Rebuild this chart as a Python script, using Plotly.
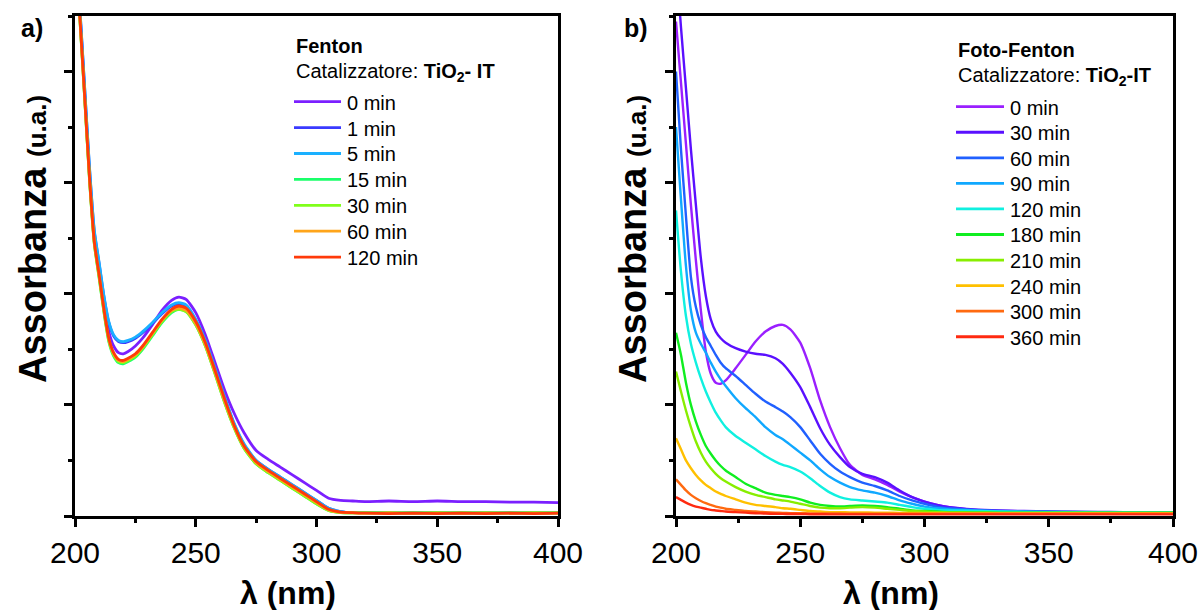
import plotly.graph_objects as go

# ---------------- Fenton (panel a) ----------------
wl_a = [200, 202, 204, 206, 208, 210, 212, 214, 216, 218, 220, 222, 225, 228, 232,
        236, 240, 243, 246, 250, 254, 258, 262, 266, 270, 275, 280, 285, 290, 295,
        300, 305, 310, 315, 320, 330, 340, 350, 360, 370, 380, 390, 400]

labels_a = ["0 min", "1 min", "5 min", "15 min", "30 min", "60 min", "120 min"]
colors_a = ["#7b1fff", "#3a3aff", "#1ab0ff", "#1aff6a", "#80ff1a", "#ffa51a", "#ff3a0a"]

abs_a_0 = [5.20, 4.55, 3.80, 3.07, 2.50, 2.21, 1.92, 1.66, 1.53, 1.47, 1.46, 1.48, 1.53, 1.60, 1.72,
           1.85, 1.94, 1.97, 1.95, 1.83, 1.63, 1.38, 1.13, 0.92, 0.75, 0.59, 0.51, 0.44, 0.37, 0.30,
           0.23, 0.16, 0.14, 0.135, 0.13, 0.135, 0.13, 0.135, 0.13, 0.13, 0.125, 0.125, 0.12]
abs_a_1 = [5.24, 4.57, 3.85, 3.13, 2.56, 2.27, 1.97, 1.74, 1.62, 1.57, 1.56, 1.57, 1.60, 1.65, 1.73,
           1.82, 1.89, 1.91, 1.89, 1.76, 1.57, 1.32, 1.06, 0.82, 0.64, 0.50, 0.42, 0.35, 0.28, 0.21,
           0.14, 0.07, 0.04, 0.03, 0.03, 0.03, 0.028, 0.03, 0.028, 0.03, 0.028, 0.03, 0.028]
abs_a_5 = [5.25, 4.58, 3.86, 3.14, 2.57, 2.28, 1.98, 1.75, 1.63, 1.58, 1.57, 1.58, 1.61, 1.66, 1.74,
           1.83, 1.90, 1.92, 1.90, 1.77, 1.58, 1.33, 1.07, 0.83, 0.65, 0.50, 0.42, 0.35, 0.28, 0.21,
           0.14, 0.07, 0.04, 0.03, 0.03, 0.03, 0.028, 0.03, 0.028, 0.03, 0.028, 0.03, 0.028]
abs_a_15 = [5.18, 4.48, 3.76, 3.03, 2.45, 2.14, 1.83, 1.57, 1.44, 1.38, 1.37, 1.39, 1.43, 1.50, 1.62,
            1.74, 1.83, 1.86, 1.84, 1.72, 1.53, 1.28, 1.02, 0.79, 0.61, 0.47, 0.39, 0.32, 0.25, 0.18,
            0.11, 0.05, 0.03, 0.028, 0.03, 0.026, 0.03, 0.027, 0.03, 0.026, 0.03, 0.027, 0.03]
abs_a_30 = [5.18, 4.48, 3.76, 3.03, 2.45, 2.15, 1.84, 1.58, 1.45, 1.39, 1.38, 1.40, 1.44, 1.51, 1.63,
            1.75, 1.84, 1.86, 1.84, 1.72, 1.53, 1.28, 1.02, 0.79, 0.61, 0.47, 0.39, 0.32, 0.25, 0.18,
            0.11, 0.05, 0.03, 0.028, 0.027, 0.03, 0.026, 0.03, 0.027, 0.03, 0.026, 0.03, 0.027]
abs_a_60 = [5.19, 4.49, 3.77, 3.04, 2.46, 2.16, 1.85, 1.59, 1.46, 1.40, 1.39, 1.41, 1.45, 1.52, 1.64,
            1.76, 1.85, 1.87, 1.85, 1.73, 1.54, 1.29, 1.03, 0.80, 0.62, 0.48, 0.40, 0.33, 0.26, 0.19,
            0.12, 0.055, 0.032, 0.028, 0.026, 0.027, 0.025, 0.026, 0.025, 0.026, 0.025, 0.026, 0.025]
abs_a_120 = [5.20, 4.50, 3.78, 3.05, 2.47, 2.17, 1.86, 1.60, 1.47, 1.41, 1.40, 1.42, 1.46, 1.53, 1.65,
             1.77, 1.86, 1.89, 1.87, 1.75, 1.56, 1.31, 1.05, 0.81, 0.63, 0.49, 0.41, 0.34, 0.27, 0.20,
             0.13, 0.06, 0.035, 0.03, 0.025, 0.022, 0.025, 0.022, 0.025, 0.022, 0.025, 0.022, 0.025]
series_a = [abs_a_0, abs_a_1, abs_a_5, abs_a_15, abs_a_30, abs_a_60, abs_a_120]

# ---------------- Foto-Fenton (panel b) ----------------
wl_b = [200, 202, 204, 206, 208, 210, 212, 214, 216, 218, 220, 224, 228, 232, 236,
        240, 243, 246, 250, 254, 258, 262, 266, 270, 275, 280, 285, 290, 295, 300,
        305, 310, 320, 330, 340, 350, 360, 370, 380, 390, 400]

labels_b = ["0 min", "30 min", "60 min", "90 min", "120 min", "180 min",
            "210 min", "240 min", "300 min", "360 min"]
colors_b = ["#9a1fff", "#5a10ff", "#2060ff", "#10a8ff", "#10f0e0", "#10ee20",
            "#88ee00", "#ffc000", "#ff6a10", "#ff2a10"]

abs_b_0 = [4.45, 3.90, 3.35, 2.80, 2.30, 1.85, 1.48, 1.28, 1.20, 1.19, 1.22, 1.33, 1.45, 1.57, 1.66,
           1.71, 1.72, 1.68, 1.56, 1.33, 1.04, 0.80, 0.61, 0.46, 0.37, 0.33, 0.28, 0.22, 0.17, 0.13,
           0.10, 0.08, 0.055, 0.045, 0.04, 0.037, 0.035, 0.033, 0.032, 0.03, 0.03]
abs_b_30 = [5.00, 4.40, 3.85, 3.30, 2.80, 2.32, 1.98, 1.77, 1.66, 1.60, 1.56, 1.51, 1.48, 1.46, 1.45,
            1.42, 1.37, 1.29, 1.16, 0.98, 0.79, 0.64, 0.53, 0.44, 0.38, 0.35, 0.30, 0.23, 0.17, 0.13,
            0.10, 0.08, 0.06, 0.05, 0.045, 0.04, 0.038, 0.036, 0.035, 0.035, 0.035]
abs_b_60 = [4.00, 3.30, 2.70, 2.15, 1.88, 1.72, 1.61, 1.53, 1.45, 1.38, 1.33, 1.26, 1.18, 1.10, 1.03,
            0.98, 0.94, 0.89, 0.80, 0.68, 0.56, 0.47, 0.40, 0.35, 0.30, 0.27, 0.23, 0.18, 0.14, 0.11,
            0.085, 0.07, 0.055, 0.045, 0.04, 0.038, 0.036, 0.035, 0.035, 0.034, 0.034]
abs_b_90 = [3.50, 2.85, 2.25, 1.85, 1.65, 1.55, 1.47, 1.38, 1.30, 1.23, 1.17, 1.06, 0.97, 0.89, 0.80,
            0.73, 0.69, 0.64, 0.57, 0.50, 0.42, 0.35, 0.30, 0.26, 0.23, 0.21, 0.18, 0.14, 0.11, 0.085,
            0.07, 0.06, 0.05, 0.04, 0.038, 0.036, 0.035, 0.034, 0.034, 0.033, 0.033]
abs_b_120 = [2.75, 2.20, 1.80, 1.55, 1.38, 1.24, 1.12, 1.02, 0.93, 0.86, 0.80, 0.72, 0.66, 0.60, 0.54,
             0.49, 0.46, 0.44, 0.40, 0.34, 0.27, 0.21, 0.17, 0.15, 0.14, 0.13, 0.12, 0.10, 0.08, 0.065,
             0.055, 0.05, 0.045, 0.04, 0.037, 0.035, 0.034, 0.033, 0.032, 0.032, 0.032]
abs_b_180 = [1.65, 1.45, 1.20, 1.00, 0.85, 0.73, 0.63, 0.56, 0.50, 0.45, 0.41, 0.35, 0.29, 0.25, 0.21,
             0.19, 0.18, 0.17, 0.15, 0.12, 0.10, 0.09, 0.085, 0.09, 0.095, 0.09, 0.08, 0.065, 0.05, 0.045,
             0.04, 0.035, 0.032, 0.03, 0.03, 0.03, 0.03, 0.03, 0.03, 0.03, 0.03]
abs_b_210 = [1.30, 1.12, 0.95, 0.80, 0.67, 0.57, 0.49, 0.43, 0.38, 0.34, 0.31, 0.26, 0.22, 0.19, 0.17,
             0.15, 0.14, 0.13, 0.11, 0.09, 0.075, 0.07, 0.07, 0.075, 0.08, 0.075, 0.065, 0.055, 0.045, 0.04,
             0.035, 0.032, 0.03, 0.028, 0.028, 0.028, 0.028, 0.028, 0.028, 0.028, 0.028]
abs_b_240 = [0.70, 0.60, 0.50, 0.43, 0.37, 0.32, 0.28, 0.25, 0.22, 0.20, 0.18, 0.15, 0.12, 0.10, 0.09,
             0.08, 0.07, 0.065, 0.055, 0.045, 0.04, 0.035, 0.035, 0.033, 0.032, 0.03, 0.03, 0.028, 0.027, 0.026,
             0.025, 0.025, 0.025, 0.025, 0.025, 0.025, 0.025, 0.025, 0.025, 0.025, 0.025]
abs_b_300 = [0.33, 0.28, 0.23, 0.19, 0.16, 0.135, 0.115, 0.10, 0.085, 0.075, 0.065, 0.055, 0.045, 0.04, 0.035,
             0.03, 0.028, 0.026, 0.025, 0.024, 0.023, 0.022, 0.022, 0.021, 0.021, 0.02, 0.02, 0.02, 0.02, 0.02,
             0.02, 0.02, 0.02, 0.02, 0.02, 0.02, 0.02, 0.02, 0.02, 0.02, 0.02]
abs_b_360 = [0.17, 0.145, 0.12, 0.10, 0.085, 0.075, 0.065, 0.055, 0.05, 0.045, 0.04, 0.035, 0.03, 0.025, 0.022,
             0.02, 0.019, 0.018, 0.017, 0.016, 0.016, 0.015, 0.015, 0.015, 0.015, 0.015, 0.015, 0.015, 0.015, 0.015,
             0.015, 0.015, 0.015, 0.015, 0.015, 0.015, 0.015, 0.015, 0.015, 0.015, 0.015]
series_b = [abs_b_0, abs_b_30, abs_b_60, abs_b_90, abs_b_120, abs_b_180,
            abs_b_210, abs_b_240, abs_b_300, abs_b_360]

x_ticks = [200, 250, 300, 350, 400]

# ---------------- figure ----------------
W, H = 1201, 610
FONT = "Liberation Sans, Arial, sans-serif"


def fx(p):
    return p / W


def fy(p):
    return 1 - p / H


fig = go.Figure()

for vals, col, lab in zip(series_a, colors_a, labels_a):
    fig.add_trace(go.Scatter(x=wl_a, y=vals, mode="lines", name=lab,
                             line=dict(color=col, width=2.8, shape="spline", smoothing=0.6),
                             xaxis="x", yaxis="y", showlegend=False))

for vals, col, lab in zip(series_b, colors_b, labels_b):
    fig.add_trace(go.Scatter(x=wl_b, y=vals, mode="lines", name=lab,
                             line=dict(color=col, width=2.4, shape="spline", smoothing=0.6),
                             xaxis="x2", yaxis="y2", showlegend=False))

xaxis_style = dict(range=[200, 400], tickvals=x_ticks, ticks="outside", ticklen=8, tickwidth=2.5,
                   tickcolor="black", showline=True, linewidth=2.5, linecolor="black", mirror=True,
                   showgrid=False, zeroline=False, automargin=False,
                   tickfont=dict(family=FONT, size=30, color="black"),
                   minor=dict(dtick=25, tick0=200, ticks="outside", ticklen=4, tickwidth=2.5,
                              tickcolor="black", showgrid=False))
yaxis_style = dict(range=[0, 4.5], dtick=1, tick0=0, ticks="outside", ticklen=8, tickwidth=2.5,
                   tickcolor="black", showline=True, linewidth=2.5, linecolor="black", mirror=True,
                   showgrid=False, zeroline=False, showticklabels=False, automargin=False,
                   minor=dict(dtick=0.5, tick0=0, ticks="outside", ticklen=4, tickwidth=2.5,
                              tickcolor="black", showgrid=False),
                   domain=[fy(516), fy(16)])

fig.update_layout(
    width=W, height=H, margin=dict(l=0, r=0, t=0, b=0, pad=0, autoexpand=False),
    paper_bgcolor="white", plot_bgcolor="white", showlegend=False,
    font=dict(family=FONT, color="black"),
    xaxis=dict(domain=[fx(75), fx(558)], anchor="y", **xaxis_style),
    yaxis=dict(anchor="x", **yaxis_style),
    xaxis2=dict(domain=[fx(676), fx(1173)], anchor="y2", **xaxis_style),
    yaxis2=dict(anchor="x2", **yaxis_style),
)

annotations = []
shapes = []


def text(x, y, s, size, xanchor="center", angle=0):
    annotations.append(dict(x=fx(x), y=fy(y), xref="paper", yref="paper", text=s,
                            showarrow=False, xanchor=xanchor, yanchor="middle",
                            textangle=angle, font=dict(family=FONT, size=size, color="black")))


# panel letters and axis titles
text(32, 28, "<b>a)</b>", 25)
text(636, 28, "<b>b)</b>", 25)
ytitle = "<b>Assorbanza</b> <b><span style='font-size:26px'>(u.a.)</span></b>"
text(33, 239, ytitle, 38, angle=-90)
text(633, 239, ytitle, 38, angle=-90)
text(288, 593, "<b>λ (nm)</b>", 32)
text(891, 593, "<b>λ (nm)</b>", 32)


def legend(x0, line_len, gap, y_title, y_cat, y_first, step, title, cat, labels, colors):
    text(x0, y_title, "<b>" + title + "</b>", 20, xanchor="left")
    text(x0, y_cat, cat, 20, xanchor="left")
    for i, (lab, col) in enumerate(zip(labels, colors)):
        yy = y_first + i * step
        shapes.append(dict(type="line", xref="paper", yref="paper",
                           x0=fx(x0), x1=fx(x0 + line_len), y0=fy(yy), y1=fy(yy),
                           line=dict(color=col, width=2.8)))
        text(x0 + line_len + gap, yy + 1, lab, 20, xanchor="left")


legend(294, 47, 4, 46, 73, 101.7, 25.9, "Fenton",
       "Catalizzatore: <b>TiO<sub>2</sub>- IT</b>", labels_a, colors_a)
legend(956, 48, 4, 50, 77, 106.7, 25.56, "Foto-Fenton",
       "Catalizzatore: <b>TiO<sub>2</sub>-IT</b>", labels_b, colors_b)

fig.update_layout(annotations=annotations, shapes=shapes)

fig.write_html("out.html")
